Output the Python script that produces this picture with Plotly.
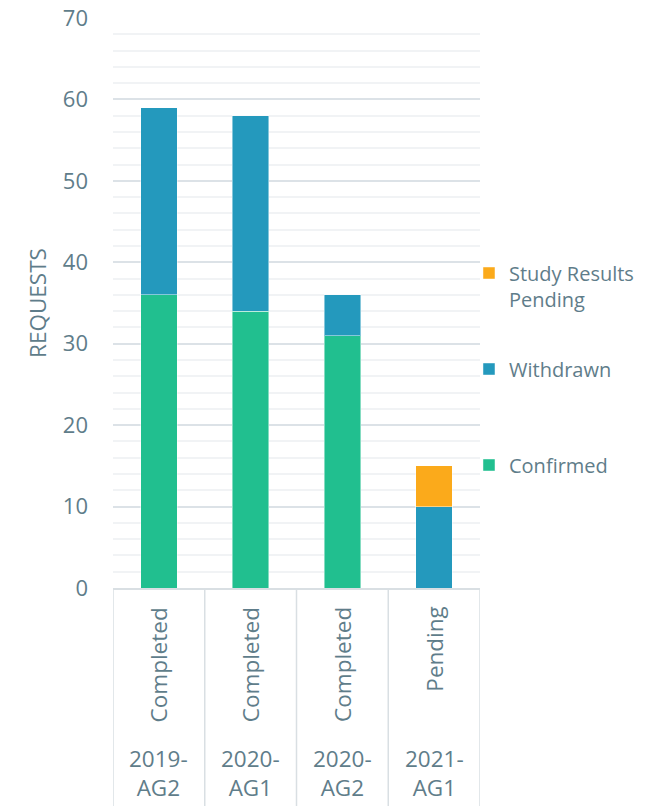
import plotly.graph_objects as go

# Request counts per allocation round
rounds = ["2019-<br>AG2", "2020-<br>AG1", "2020-<br>AG2", "2021-<br>AG1"]
statuses = ["Completed", "Completed", "Completed", "Pending"]
confirmed = [36, 34, 31, 0]
withdrawn = [23, 24, 5, 10]
pending_results = [0, 0, 0, 5]

TEXT = "#5F7D8A"
FONT = "Open Sans"
keys = list(range(len(rounds)))
PLOT_TOP, PLOT_BOTTOM = 18, 588
plot_h = PLOT_BOTTOM - PLOT_TOP


def paper_y(px):
    return (PLOT_BOTTOM - px) / plot_h


fig = go.Figure()
series = [
    ("Confirmed", confirmed, "#21BF8F", "legend3", 465),
    ("Withdrawn", withdrawn, "#2499BD", "legend2", 369),
    ("Study Results<br>Pending", pending_results, "#FBAA1B", "legend", 286),
]
legend_layout = {}
for name, vals, color, lg, ypx in series:
    fig.add_trace(go.Bar(
        x=keys, y=vals, name=name, legend=lg,
        marker=dict(color=color, line=dict(color="rgba(255,255,255,0.45)", width=1)),
        hoverinfo="skip",
    ))
    legend_layout[lg] = dict(
        x=0.97, y=paper_y(ypx), xanchor="left", yanchor="middle",
        valign="top", bgcolor="rgba(0,0,0,0)",
        font=dict(family=FONT, size=20, color=TEXT),
        itemclick=False, itemdoubleclick=False,
    )

# Two-level category labels below the axis
for i, (st, rd) in enumerate(zip(statuses, rounds)):
    fig.add_annotation(x=i, y=0, xref="x", yref="paper", yshift=-17,
                       text=st, textangle=-90, showarrow=False,
                       xanchor="center", yanchor="top",
                       font=dict(family=FONT, size=22.5, color=TEXT))
    fig.add_annotation(x=i, y=0, xref="x", yref="paper", yshift=-153,
                       text=rd, showarrow=False,
                       xanchor="center", yanchor="top",
                       font=dict(family=FONT, size=22.5, color=TEXT))

# Divider lines between category groups
for b in [-0.5, 0.5, 1.5, 2.5, 3.5]:
    fig.add_shape(type="line", xref="x", yref="paper", x0=b, x1=b,
                  y0=0, y1=-218 / plot_h, line=dict(color="#D9DFE3", width=1.5))

fig.update_layout(
    width=652, height=806,
    margin=dict(l=113, r=172, t=PLOT_TOP, b=806 - PLOT_BOTTOM, autoexpand=False),
    paper_bgcolor="white", plot_bgcolor="white",
    barmode="stack", bargap=0.6,
    font=dict(family=FONT, size=20, color=TEXT),
    showlegend=True,
    xaxis=dict(range=[-0.5, 3.5], showticklabels=False, showgrid=False,
               zeroline=False, showline=True, linecolor="#D9DFE3", linewidth=1.5,
               fixedrange=True, automargin=False),
    yaxis=dict(range=[0, 70], dtick=10, showgrid=True, gridcolor="#DCE2E7",
               gridwidth=1.5, zeroline=False, ticklabelstandoff=24,
               tickfont=dict(family=FONT, size=22, color=TEXT),
               minor=dict(dtick=2, showgrid=True, gridcolor="#F1F3F5", gridwidth=1.5),
               title=dict(text="REQUESTS", standoff=9,
                          font=dict(family=FONT, size=22.5, color=TEXT)),
               fixedrange=True, automargin=False),
    **legend_layout,
)

fig.write_html("out.html")
